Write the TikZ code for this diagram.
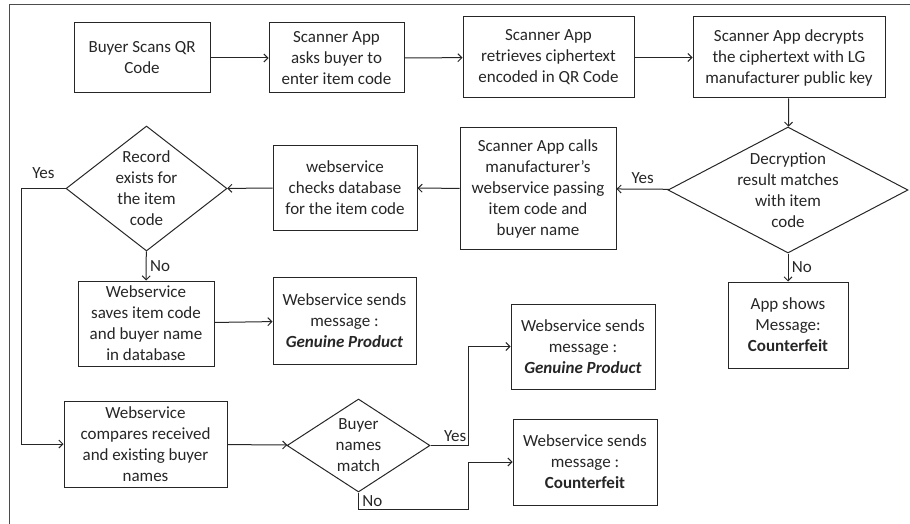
\documentclass[tikz,border=0pt]{standalone}
\usepackage{fontspec}
\setmainfont{Carlito}
\usetikzlibrary{arrows.meta, shapes.geometric}

\begin{document}
\begin{tikzpicture}[x=1pt,y=-1pt,line width=1pt,
  >={Straight Barb[length=4pt,width=8pt]},
  every node/.style={font=\fontsize{17}{21}\selectfont,text=black!85},
  box/.style={draw=black!85,rectangle,align=center,inner sep=2pt},
  decision/.style={draw=black!85,diamond,inner sep=0pt},
  inside/.style={align=center,inner sep=0pt}]
  \def\genuine{\textbf{\textit{Genuine Product}}}
  \def\fake{\textbf{Counterfeit}}

  \colorlet{link}{black!85}
  \colorlet{frame}{black!70}

  \useasboundingbox (0,0) rectangle (910,524);
  \draw [frame] (9,524) -- (9,5) -- (910,5);

  \node [box,minimum width=136,minimum height=70] (scan) at (142,58)
    {Buyer Scans QR\\Code};
  \node [box,minimum width=135,minimum height=70] (ask) at (336.5,58)
    {Scanner App\\asks buyer to\\enter item code};
  \node [box,minimum width=171,minimum height=81] (fetch) at (548.5,57.5)
    {Scanner App\\retrieves ciphertext\\encoded in QR Code};
  \node [box,minimum width=192,minimum height=81] (decrypt) at (789,57.5)
    {Scanner App decrypts\\the ciphertext with LG\\manufacturer public key};

  \node [decision,minimum width=240,minimum height=126,
    label={[inside]center:Decryption\\result matches\\with item\\code}]
    (match) at (788,190) {};
  \node [box,minimum width=156,minimum height=121] (call) at (538,188.5)
    {Scanner App calls\\manufacturer’s\\webservice passing\\item code and\\buyer name};
  \node [box,minimum width=144,minimum height=84] (check) at (345,188)
    {webservice\\checks database\\for the item code};
  \node [decision,minimum width=161,minimum height=125,
    label={[inside]center:Record\\exists for\\the item\\code}]
    (record) at (146.5,188.5) {};

  \node [box,minimum width=120,minimum height=86] (appfake) at (788,325)
    {App shows\\Message:\\\fake};
  \node [box,minimum width=136,minimum height=85] (save) at (146,323.5)
    {Webservice\\saves item code\\and buyer name\\in database};
  \node [box,minimum width=143,minimum height=87] (okfirst) at (344.5,320.5)
    {Webservice sends\\message :\\\genuine};

  \node [box,minimum width=163,minimum height=86] (compare) at (145.5,444)
    {Webservice\\compares received\\and existing buyer\\names};
  \node [decision,minimum width=143,minimum height=93,
    label={[inside]center:Buyer\\names\\match}]
    (names) at (358.5,445.5) {};
  \node [box,minimum width=144,minimum height=85] (okagain) at (583,346.5)
    {Webservice sends\\message :\\\genuine};
  \node [box,minimum width=144,minimum height=86] (wsfake) at (585,462)
    {Webservice sends\\message :\\\fake};

  \draw [link,->] (scan) -- (ask);
  \draw [link,->] (ask) -- (fetch);
  \draw [link,->] (fetch) -- (decrypt);
  \draw [link,->] (decrypt) -- (match);
  \draw [link,->] (match) -- node [above=2pt] {Yes} (call);
  \draw [link,->] (match) -- node [right] {No} (appfake);
  \draw [link,->] (call) -- (check);
  \draw [link,->] (check) -- (record);
  \draw [link,->] (record) -- node [right] {No} (save);
  \draw [link,->] (save) -- (okfirst);
  \draw [link,->] (record.west) -- node [above=6pt] {Yes} ++(-44,0) |- (compare.west);
  \draw [link,->] (compare) -- (names);
  \draw [link,->] (names.east) -- node [above,pos=.65] {Yes} ++(38,0) |- (okagain.west);
  \draw [link,->] (names.south) -- node [right,pos=.5] {No} ++(0,17)
    -- ++(109.5,0) |- (wsfake.west);
\end{tikzpicture}
\end{document}
